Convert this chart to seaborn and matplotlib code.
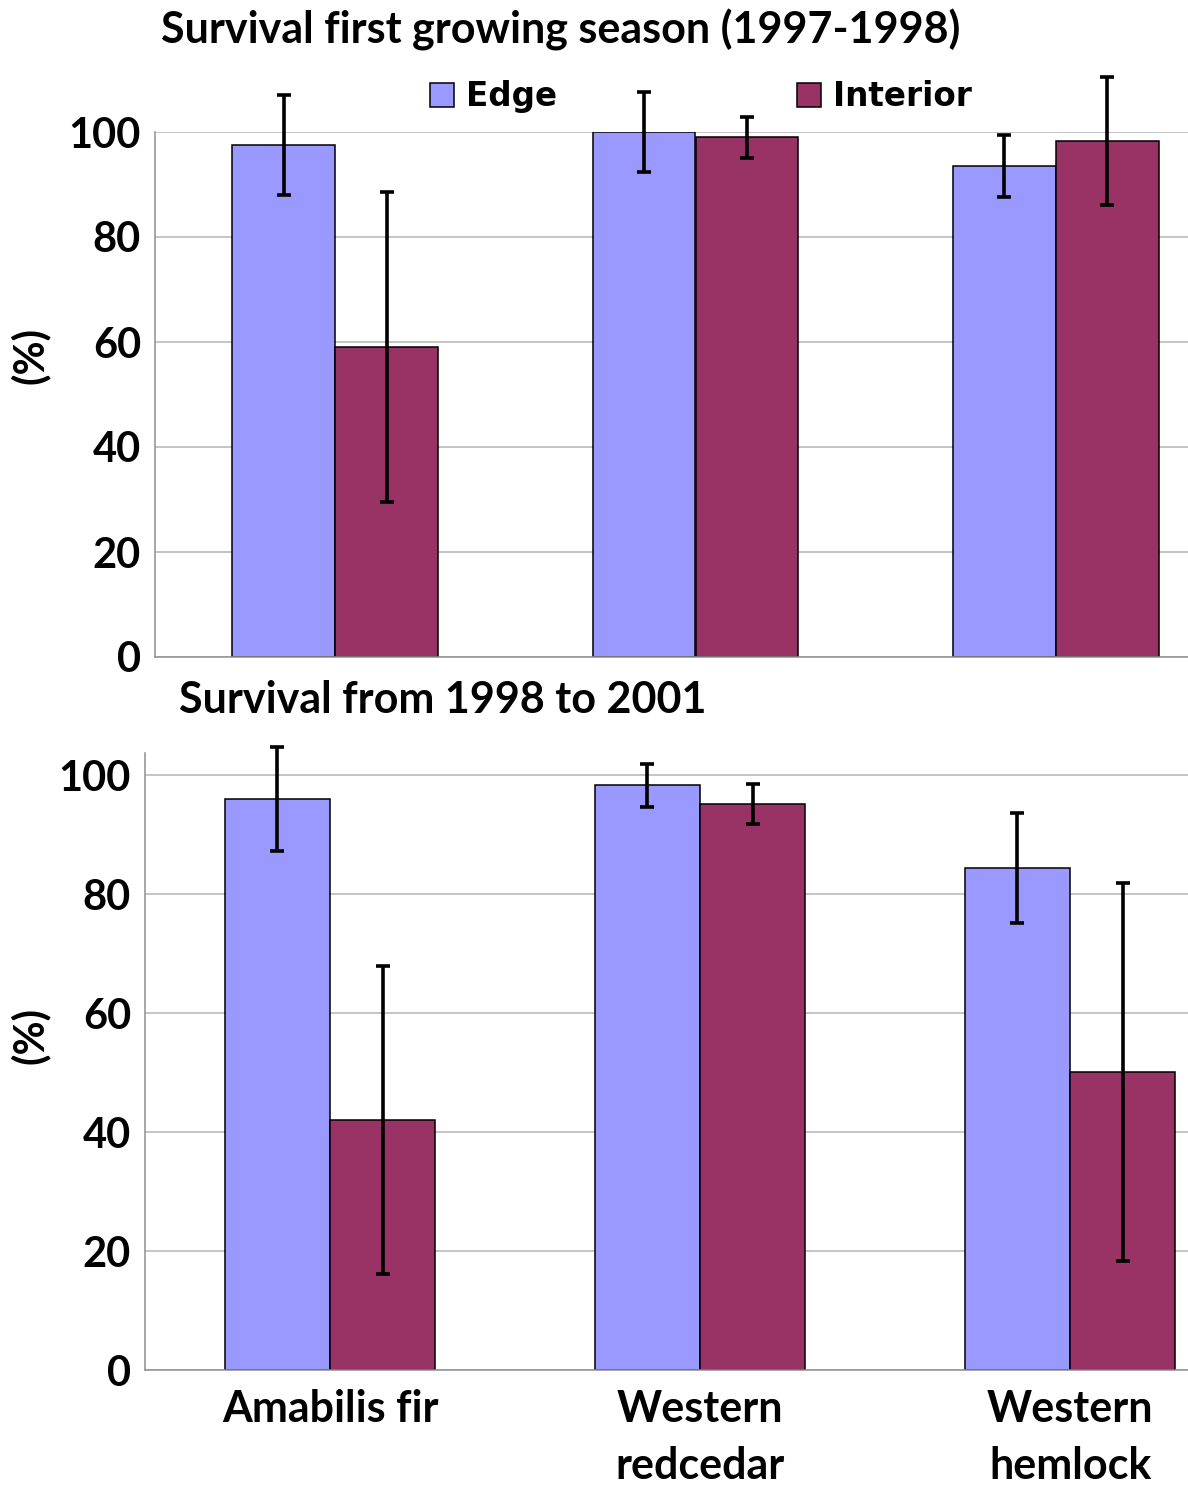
import numpy as np
import pandas as pd
import matplotlib
matplotlib.use("Agg")
import matplotlib.pyplot as plt
import seaborn as sns

# ─────────────────────────────────────────────
# Data
# ─────────────────────────────────────────────
species = ["Amabilis fir", "Western\nredcedar", "Western\nhemlock"]
sites = ["Edge", "Interior"]

edge_1998 = [97.5, 100.0, 93.5]
interior_1998 = [59.0, 99.0, 98.3]
edge_1998_err = [9.5, 7.6, 5.9]
interior_1998_err = [29.5, 3.9, 12.2]

edge_2001 = [96.0, 98.3, 84.4]
interior_2001 = [42.0, 95.1, 50.1]
edge_2001_err = [8.7, 3.6, 9.2]
interior_2001_err = [25.9, 3.4, 31.8]

titles = ["Survival first growing season (1997-1998)", "Survival from 1998 to 2001"]
yticks = [0, 20, 40, 60, 80, 100]

COLORS = {"Edge": "#9999FF", "Interior": "#993366"}
GRID = "#b4b4b4"
FONT = "Lato"


def make_frame(edge, interior, edge_err, interior_err):
    return pd.DataFrame({
        "species": species * 2,
        "site": ["Edge"] * len(species) + ["Interior"] * len(species),
        "value": edge + interior,
        "err": edge_err + interior_err,
    })


def draw_panel(ax, df, ymax, show_labels):
    sns.barplot(data=df, x="species", y="value", hue="site", order=species,
                hue_order=sites, palette=COLORS, width=0.57, errorbar=None,
                edgecolor="black", linewidth=1.1, saturation=1, ax=ax,
                legend=show_labels is False)

    # error bars at the centres of the bars seaborn drew
    for cont, site in zip(ax.containers, sites):
        errs = df[df["site"] == site]["err"].to_numpy()
        xs = [b.get_x() + b.get_width() / 2 for b in cont]
        hs = [b.get_height() for b in cont]
        ax.errorbar(xs, hs, yerr=errs, fmt="none", ecolor="black",
                    elinewidth=2.6, capsize=5, capthick=2.6, clip_on=False,
                    zorder=5)

    ax.set_ylim(0, ymax)
    ax.set_xlim(-0.5, 2.5)
    ax.set_yticks(yticks)
    ax.set_yticklabels([str(t) for t in yticks], fontsize=30,
                       fontweight="bold", family=FONT)
    ax.yaxis.grid(True, color=GRID, linewidth=1.1)
    ax.set_axisbelow(True)

    ax.set_xticks([-0.5, 0.5, 1.5, 2.5])
    ax.set_xticklabels([])
    ax.tick_params(axis="x", which="major", length=6, color="#909090", width=1)
    ax.tick_params(axis="y", length=6, color="#909090", width=1, pad=4,
                   labelcolor="black")
    if show_labels:
        ax.set_xticks([0, 1, 2], minor=True)
        ax.set_xticklabels(species, minor=True, fontsize=31, fontweight="bold",
                           family=FONT, linespacing=1.5)
        ax.tick_params(axis="x", which="minor", length=0, pad=14,
                       labelcolor="black")

    ax.set_xlabel("")
    ax.set_ylabel("(%)", fontsize=30, fontweight="bold", family=FONT,
                  color="black")
    for side in ["top", "right"]:
        ax.spines[side].set_visible(False)
    for side in ["left", "bottom"]:
        ax.spines[side].set_color("#909090")
        ax.spines[side].set_linewidth(1.1)


sns.set_theme(style="white")
plt.rcParams["text.color"] = "black"
W, H = 1188, 1486
fig = plt.figure(figsize=(W / 100, H / 100), dpi=100)

ax_top = fig.add_axes([155 / W, 1 - 657 / H, 1081 / W, 525 / H])
ax_bot = fig.add_axes([145 / W, 1 - 1370 / H, 1110 / W, 617 / H])

df_top = make_frame(edge_1998, interior_1998, edge_1998_err, interior_1998_err)
df_bot = make_frame(edge_2001, interior_2001, edge_2001_err, interior_2001_err)

draw_panel(ax_top, df_top, 100, False)
draw_panel(ax_bot, df_bot, 103.7, True)

# rotated label: x coordinate is its right edge
ax_top.yaxis.set_label_coords((50 - 155) / 1081, (657 - 355) / 525)
ax_bot.yaxis.set_label_coords((50 - 145) / 1110, (1370 - 1035) / 617)

sns.move_legend(ax_top, "upper left", bbox_to_anchor=(430 / W, 1 - 80 / H),
                bbox_transform=fig.transFigure, ncol=2, frameon=False,
                title=None, handlelength=0.75, handleheight=0.75,
                handletextpad=0.35, columnspacing=7.35, borderpad=0,
                borderaxespad=0, labelcolor="black",
                prop={"family": "DejaVu Sans", "weight": "bold", "size": 23.5})

fig.text(561 / W, 1 - 30 / H, titles[0], ha="center", va="center",
         fontsize=31, fontweight="bold", family=FONT, color="black")
fig.text(443 / W, 1 - 700 / H, titles[1], ha="center", va="center",
         fontsize=31, fontweight="bold", family=FONT, color="black")

fig.savefig("out.png", dpi=100)
